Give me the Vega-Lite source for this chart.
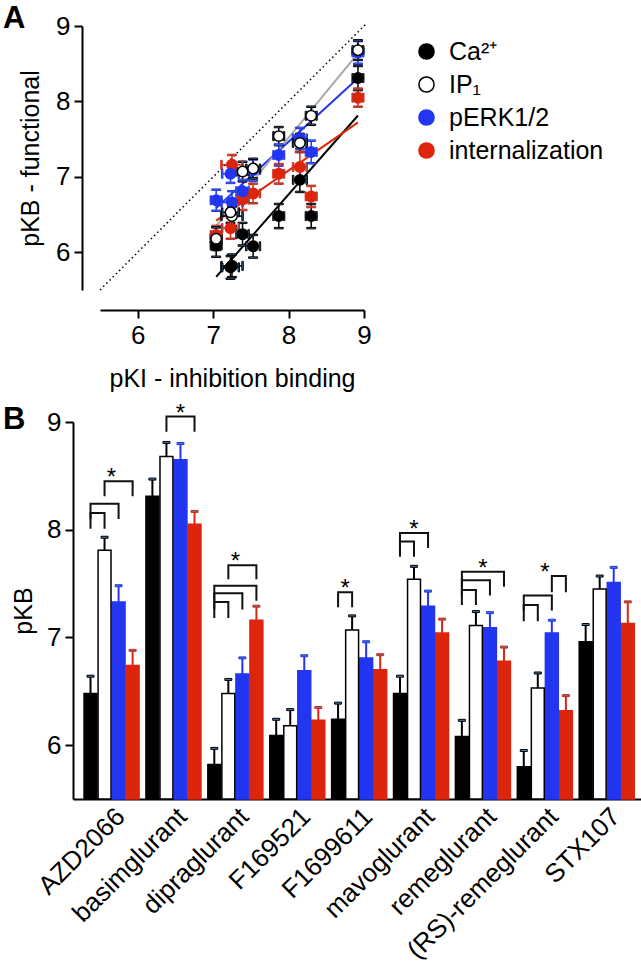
{
  "$schema": "https://vega.github.io/schema/vega-lite/v6.json",
  "padding": {"left": 3, "top": 3, "right": 0, "bottom": 0},
  "config": {
    "font": "Liberation Sans",
    "view": {"stroke": null},
    "axis": {"grid": false, "domainColor": "#000", "domainWidth": 2, "tickColor": "#000", "tickWidth": 2, "tickSize": 8, "labelColor": "#000", "labelFontSize": 26, "titleColor": "#000", "titleFontSize": 25, "titleFontWeight": "normal", "labelPadding": 4, "labelFlush": false, "labelOverlap": false},
    "legend": {"labelColor": "#000"}
  },
  "datasets": {
    "vals": [
      {"c": "AZD2066", "s": "Ca²⁺", "pKB": 6.48, "lo": 6.32, "hi": 6.64, "pKi": 8.30, "kiLo": 8.23, "kiHi": 8.37},
      {"c": "basimglurant", "s": "Ca²⁺", "pKB": 8.31, "lo": 8.15, "hi": 8.47, "pKi": 8.92, "kiLo": 8.85, "kiHi": 8.99},
      {"c": "dipraglurant", "s": "Ca²⁺", "pKB": 5.82, "lo": 5.67, "hi": 5.97, "pKi": 7.25, "kiLo": 7.11, "kiHi": 7.39},
      {"c": "F169521", "s": "Ca²⁺", "pKB": 6.09, "lo": 5.94, "hi": 6.24, "pKi": 7.04, "kiLo": 6.97, "kiHi": 7.11},
      {"c": "F1699611", "s": "Ca²⁺", "pKB": 6.24, "lo": 6.09, "hi": 6.39, "pKi": 7.39, "kiLo": 7.31, "kiHi": 7.47},
      {"c": "mavoglurant", "s": "Ca²⁺", "pKB": 6.48, "lo": 6.32, "hi": 6.64, "pKi": 7.87, "kiLo": 7.80, "kiHi": 7.94},
      {"c": "remeglurant", "s": "Ca²⁺", "pKB": 6.08, "lo": 5.93, "hi": 6.23, "pKi": 7.53, "kiLo": 7.44, "kiHi": 7.62},
      {"c": "(RS)-remeglurant", "s": "Ca²⁺", "pKB": 5.80, "lo": 5.65, "hi": 5.95, "pKi": 7.23, "kiLo": 7.12, "kiHi": 7.34},
      {"c": "STX107", "s": "Ca²⁺", "pKB": 6.96, "lo": 6.80, "hi": 7.12, "pKi": 8.15, "kiLo": 8.06, "kiHi": 8.24},
      {"c": "AZD2066", "s": "internalization", "pKB": 6.74, "lo": 6.60, "hi": 6.88, "pKi": 8.30, "kiLo": 8.23, "kiHi": 8.37},
      {"c": "basimglurant", "s": "internalization", "pKB": 8.05, "lo": 7.93, "hi": 8.17, "pKi": 8.92, "kiLo": 8.85, "kiHi": 8.99},
      {"c": "dipraglurant", "s": "internalization", "pKB": 7.16, "lo": 7.03, "hi": 7.29, "pKi": 7.25, "kiLo": 7.11, "kiHi": 7.39},
      {"c": "F169521", "s": "internalization", "pKB": 6.23, "lo": 6.11, "hi": 6.35, "pKi": 7.04, "kiLo": 6.97, "kiHi": 7.11},
      {"c": "F1699611", "s": "internalization", "pKB": 6.70, "lo": 6.56, "hi": 6.84, "pKi": 7.39, "kiLo": 7.31, "kiHi": 7.47},
      {"c": "mavoglurant", "s": "internalization", "pKB": 7.04, "lo": 6.91, "hi": 7.17, "pKi": 7.87, "kiLo": 7.80, "kiHi": 7.94},
      {"c": "remeglurant", "s": "internalization", "pKB": 6.78, "lo": 6.65, "hi": 6.91, "pKi": 7.53, "kiLo": 7.44, "kiHi": 7.62},
      {"c": "(RS)-remeglurant", "s": "internalization", "pKB": 6.32, "lo": 6.18, "hi": 6.46, "pKi": 7.23, "kiLo": 7.12, "kiHi": 7.34},
      {"c": "STX107", "s": "internalization", "pKB": 7.13, "lo": 6.93, "hi": 7.33, "pKi": 8.15, "kiLo": 8.06, "kiHi": 8.24},
      {"c": "AZD2066", "s": "pERK1/2", "pKB": 7.33, "lo": 7.18, "hi": 7.48, "pKi": 8.30, "kiLo": 8.23, "kiHi": 8.37},
      {"c": "basimglurant", "s": "pERK1/2", "pKB": 8.65, "lo": 8.50, "hi": 8.80, "pKi": 8.92, "kiLo": 8.85, "kiHi": 8.99},
      {"c": "dipraglurant", "s": "pERK1/2", "pKB": 6.66, "lo": 6.51, "hi": 6.81, "pKi": 7.25, "kiLo": 7.11, "kiHi": 7.39},
      {"c": "F169521", "s": "pERK1/2", "pKB": 6.69, "lo": 6.55, "hi": 6.83, "pKi": 7.04, "kiLo": 6.97, "kiHi": 7.11},
      {"c": "F1699611", "s": "pERK1/2", "pKB": 6.81, "lo": 6.66, "hi": 6.96, "pKi": 7.39, "kiLo": 7.31, "kiHi": 7.47},
      {"c": "mavoglurant", "s": "pERK1/2", "pKB": 7.29, "lo": 7.15, "hi": 7.43, "pKi": 7.87, "kiLo": 7.80, "kiHi": 7.94},
      {"c": "remeglurant", "s": "pERK1/2", "pKB": 7.09, "lo": 6.95, "hi": 7.23, "pKi": 7.53, "kiLo": 7.44, "kiHi": 7.62},
      {"c": "(RS)-remeglurant", "s": "pERK1/2", "pKB": 7.04, "lo": 6.92, "hi": 7.16, "pKi": 7.23, "kiLo": 7.12, "kiHi": 7.34},
      {"c": "STX107", "s": "pERK1/2", "pKB": 7.51, "lo": 7.37, "hi": 7.65, "pKi": 8.15, "kiLo": 8.06, "kiHi": 8.24},
      {"c": "AZD2066", "s": "IP₁", "pKB": 7.81, "lo": 7.69, "hi": 7.93, "pKi": 8.30, "kiLo": 8.23, "kiHi": 8.37},
      {"c": "basimglurant", "s": "IP₁", "pKB": 8.68, "lo": 8.55, "hi": 8.81, "pKi": 8.92, "kiLo": 8.85, "kiHi": 8.99},
      {"c": "dipraglurant", "s": "IP₁", "pKB": 6.48, "lo": 6.35, "hi": 6.61, "pKi": 7.25, "kiLo": 7.11, "kiHi": 7.39},
      {"c": "F169521", "s": "IP₁", "pKB": 6.18, "lo": 6.03, "hi": 6.33, "pKi": 7.04, "kiLo": 6.97, "kiHi": 7.11},
      {"c": "F1699611", "s": "IP₁", "pKB": 7.07, "lo": 6.94, "hi": 7.20, "pKi": 7.39, "kiLo": 7.31, "kiHi": 7.47},
      {"c": "mavoglurant", "s": "IP₁", "pKB": 7.54, "lo": 7.42, "hi": 7.66, "pKi": 7.87, "kiLo": 7.80, "kiHi": 7.94},
      {"c": "remeglurant", "s": "IP₁", "pKB": 7.11, "lo": 6.98, "hi": 7.24, "pKi": 7.53, "kiLo": 7.44, "kiHi": 7.62},
      {"c": "(RS)-remeglurant", "s": "IP₁", "pKB": 6.53, "lo": 6.39, "hi": 6.67, "pKi": 7.23, "kiLo": 7.12, "kiHi": 7.34},
      {"c": "STX107", "s": "IP₁", "pKB": 7.45, "lo": 7.33, "hi": 7.57, "pKi": 8.15, "kiLo": 8.06, "kiHi": 8.24}
    ],
    "ident": [{"pKi": 5.5, "pKB": 5.5}, {"pKi": 9.03, "pKB": 9.03}],
    "br": [
      {"k": 1, "c": "AZD2066", "s": "Ca²⁺", "y": 8.01, "o": 1}, {"k": 1, "c": "AZD2066", "s": "Ca²⁺", "y": 8.155, "o": 2}, {"k": 1, "c": "AZD2066", "s": "IP₁", "y": 8.155, "o": 3}, {"k": 1, "c": "AZD2066", "s": "IP₁", "y": 8.01, "o": 4},
      {"k": 2, "c": "AZD2066", "s": "Ca²⁺", "y": 8.10, "o": 1}, {"k": 2, "c": "AZD2066", "s": "Ca²⁺", "y": 8.24, "o": 2}, {"k": 2, "c": "AZD2066", "s": "pERK1/2", "y": 8.24, "o": 3}, {"k": 2, "c": "AZD2066", "s": "pERK1/2", "y": 8.10, "o": 4},
      {"k": 3, "c": "AZD2066", "s": "IP₁", "y": 8.31, "o": 1}, {"k": 3, "c": "AZD2066", "s": "IP₁", "y": 8.45, "o": 2}, {"k": 3, "c": "AZD2066", "s": "internalization", "y": 8.45, "o": 3}, {"k": 3, "c": "AZD2066", "s": "internalization", "y": 8.31, "o": 4},
      {"k": 4, "c": "basimglurant", "s": "IP₁", "y": 8.91, "o": 1}, {"k": 4, "c": "basimglurant", "s": "IP₁", "y": 9.05, "o": 2}, {"k": 4, "c": "basimglurant", "s": "internalization", "y": 9.05, "o": 3}, {"k": 4, "c": "basimglurant", "s": "internalization", "y": 8.91, "o": 4},
      {"k": 5, "c": "dipraglurant", "s": "Ca²⁺", "y": 7.18, "o": 1}, {"k": 5, "c": "dipraglurant", "s": "Ca²⁺", "y": 7.33, "o": 2}, {"k": 5, "c": "dipraglurant", "s": "IP₁", "y": 7.33, "o": 3}, {"k": 5, "c": "dipraglurant", "s": "IP₁", "y": 7.18, "o": 4},
      {"k": 6, "c": "dipraglurant", "s": "Ca²⁺", "y": 7.26, "o": 1}, {"k": 6, "c": "dipraglurant", "s": "Ca²⁺", "y": 7.41, "o": 2}, {"k": 6, "c": "dipraglurant", "s": "pERK1/2", "y": 7.41, "o": 3}, {"k": 6, "c": "dipraglurant", "s": "pERK1/2", "y": 7.26, "o": 4},
      {"k": 7, "c": "dipraglurant", "s": "Ca²⁺", "y": 7.34, "o": 1}, {"k": 7, "c": "dipraglurant", "s": "Ca²⁺", "y": 7.48, "o": 2}, {"k": 7, "c": "dipraglurant", "s": "internalization", "y": 7.48, "o": 3}, {"k": 7, "c": "dipraglurant", "s": "internalization", "y": 7.34, "o": 4},
      {"k": 8, "c": "dipraglurant", "s": "IP₁", "y": 7.54, "o": 1}, {"k": 8, "c": "dipraglurant", "s": "IP₁", "y": 7.67, "o": 2}, {"k": 8, "c": "dipraglurant", "s": "internalization", "y": 7.67, "o": 3}, {"k": 8, "c": "dipraglurant", "s": "internalization", "y": 7.54, "o": 4},
      {"k": 9, "c": "F1699611", "s": "Ca²⁺", "y": 7.28, "o": 1}, {"k": 9, "c": "F1699611", "s": "Ca²⁺", "y": 7.42, "o": 2}, {"k": 9, "c": "F1699611", "s": "IP₁", "y": 7.42, "o": 3}, {"k": 9, "c": "F1699611", "s": "IP₁", "y": 7.28, "o": 4},
      {"k": 10, "c": "mavoglurant", "s": "Ca²⁺", "y": 7.75, "o": 1}, {"k": 10, "c": "mavoglurant", "s": "Ca²⁺", "y": 7.89, "o": 2}, {"k": 10, "c": "mavoglurant", "s": "IP₁", "y": 7.89, "o": 3}, {"k": 10, "c": "mavoglurant", "s": "IP₁", "y": 7.75, "o": 4},
      {"k": 11, "c": "mavoglurant", "s": "Ca²⁺", "y": 7.83, "o": 1}, {"k": 11, "c": "mavoglurant", "s": "Ca²⁺", "y": 7.97, "o": 2}, {"k": 11, "c": "mavoglurant", "s": "pERK1/2", "y": 7.97, "o": 3}, {"k": 11, "c": "mavoglurant", "s": "pERK1/2", "y": 7.83, "o": 4},
      {"k": 12, "c": "remeglurant", "s": "Ca²⁺", "y": 7.30, "o": 1}, {"k": 12, "c": "remeglurant", "s": "Ca²⁺", "y": 7.44, "o": 2}, {"k": 12, "c": "remeglurant", "s": "IP₁", "y": 7.44, "o": 3}, {"k": 12, "c": "remeglurant", "s": "IP₁", "y": 7.30, "o": 4},
      {"k": 13, "c": "remeglurant", "s": "Ca²⁺", "y": 7.39, "o": 1}, {"k": 13, "c": "remeglurant", "s": "Ca²⁺", "y": 7.53, "o": 2}, {"k": 13, "c": "remeglurant", "s": "pERK1/2", "y": 7.53, "o": 3}, {"k": 13, "c": "remeglurant", "s": "pERK1/2", "y": 7.39, "o": 4},
      {"k": 14, "c": "remeglurant", "s": "Ca²⁺", "y": 7.47, "o": 1}, {"k": 14, "c": "remeglurant", "s": "Ca²⁺", "y": 7.61, "o": 2}, {"k": 14, "c": "remeglurant", "s": "internalization", "y": 7.61, "o": 3}, {"k": 14, "c": "remeglurant", "s": "internalization", "y": 7.47, "o": 4},
      {"k": 15, "c": "(RS)-remeglurant", "s": "Ca²⁺", "y": 7.15, "o": 1}, {"k": 15, "c": "(RS)-remeglurant", "s": "Ca²⁺", "y": 7.30, "o": 2}, {"k": 15, "c": "(RS)-remeglurant", "s": "IP₁", "y": 7.30, "o": 3}, {"k": 15, "c": "(RS)-remeglurant", "s": "IP₁", "y": 7.15, "o": 4},
      {"k": 16, "c": "(RS)-remeglurant", "s": "Ca²⁺", "y": 7.25, "o": 1}, {"k": 16, "c": "(RS)-remeglurant", "s": "Ca²⁺", "y": 7.39, "o": 2}, {"k": 16, "c": "(RS)-remeglurant", "s": "pERK1/2", "y": 7.39, "o": 3}, {"k": 16, "c": "(RS)-remeglurant", "s": "pERK1/2", "y": 7.25, "o": 4},
      {"k": 17, "c": "(RS)-remeglurant", "s": "pERK1/2", "y": 7.42, "o": 1}, {"k": 17, "c": "(RS)-remeglurant", "s": "pERK1/2", "y": 7.57, "o": 2}, {"k": 17, "c": "(RS)-remeglurant", "s": "internalization", "y": 7.57, "o": 3}, {"k": 17, "c": "(RS)-remeglurant", "s": "internalization", "y": 7.42, "o": 4}
    ],
    "st": [
      {"c": "AZD2066", "s": "IP₁", "y": 8.45, "p": "mid"},
      {"c": "basimglurant", "s": "pERK1/2", "y": 9.05, "p": "on"},
      {"c": "dipraglurant", "s": "IP₁", "y": 7.67, "p": "mid"},
      {"c": "F1699611", "s": "Ca²⁺", "y": 7.42, "p": "mid"},
      {"c": "mavoglurant", "s": "IP₁", "y": 7.97, "p": "on"},
      {"c": "remeglurant", "s": "IP₁", "y": 7.61, "p": "mid"},
      {"c": "(RS)-remeglurant", "s": "IP₁", "y": 7.57, "p": "mid"}
    ]
  },
  "columns": 1,
  "spacing": 10,
  "resolve": {"scale": {"fill": "independent", "stroke": "independent", "color": "independent"}},
  "concat": [
    {
      "width": 291,
      "height": 264,
      "title": {"text": "A", "anchor": "start", "frame": "group", "fontSize": 31, "fontWeight": "bold", "dx": -70, "dy": 22, "offset": 0, "color": "#000"},
      "layer": [
        {
          "data": {"name": "ident"},
          "mark": {"type": "line", "strokeDash": [1.5, 3], "strokeWidth": 1.5, "color": "#000"},
          "encoding": {
            "x": {"field": "pKi", "type": "quantitative", "scale": {"domain": [5.5, 9], "range": [27, 291], "nice": false, "zero": false}, "axis": {"values": [6, 7, 8, 9], "format": "d", "offset": 20, "title": "pKI - inhibition binding", "titlePadding": 18}},
            "y": {"field": "pKB", "type": "quantitative", "scale": {"domain": [5.5, 9], "nice": false, "zero": false}, "axis": {"values": [6, 7, 8, 9], "format": "d", "offset": -9, "title": "pKB - functional", "titlePadding": 12}}
          }
        },
        {
          "data": {"name": "vals"},
          "transform": [{"regression": "pKB", "on": "pKi", "groupby": ["s"]}, {"filter": "datum.s !== 'IP₁'"}],
          "mark": {"type": "line", "strokeWidth": 2, "opacity": 1},
          "encoding": {
            "x": {"field": "pKi", "type": "quantitative", "scale": {"domain": [5.5, 9], "range": [27, 291], "nice": false, "zero": false}},
            "y": {"field": "pKB", "type": "quantitative", "scale": {"domain": [5.5, 9], "nice": false, "zero": false}},
            "stroke": {"field": "s", "type": "nominal", "scale": {"domain": ["Ca²⁺", "IP₁", "pERK1/2", "internalization"], "range": ["#000000", "#000000", "#2236f2", "#dd250c"]}}
          }
        },
        {
          "data": {"name": "vals"},
          "transform": [{"filter": "datum.s === 'IP₁'"}, {"regression": "pKB", "on": "pKi"}],
          "mark": {"type": "line", "strokeWidth": 2, "color": "#a8a8a8"},
          "encoding": {
            "x": {"field": "pKi", "type": "quantitative", "scale": {"domain": [5.5, 9], "range": [27, 291], "nice": false, "zero": false}},
            "y": {"field": "pKB", "type": "quantitative", "scale": {"domain": [5.5, 9], "nice": false, "zero": false}}
          }
        },
        {
          "data": {"name": "vals"},
          "mark": {"type": "rule", "strokeWidth": 1.5, "opacity": 1},
          "encoding": {
            "x": {"field": "pKi", "type": "quantitative", "scale": {"domain": [5.5, 9], "range": [27, 291], "nice": false, "zero": false}},
            "y": {"field": "lo", "type": "quantitative", "scale": {"domain": [5.5, 9], "nice": false, "zero": false}},
            "y2": {"field": "hi"},
            "stroke": {"field": "s", "type": "nominal", "scale": {"domain": ["Ca²⁺", "IP₁", "pERK1/2", "internalization"], "range": ["#000000", "#000000", "#2236f2", "#dd250c"]}}
          }
        },
        {
          "data": {"name": "vals"},
          "mark": {"type": "tick", "orient": "horizontal", "size": 9, "thickness": 1.5, "opacity": 1},
          "encoding": {
            "x": {"field": "pKi", "type": "quantitative", "scale": {"domain": [5.5, 9], "range": [27, 291], "nice": false, "zero": false}},
            "y": {"field": "lo", "type": "quantitative", "scale": {"domain": [5.5, 9], "nice": false, "zero": false}},
            "stroke": {"field": "s", "type": "nominal", "scale": {"domain": ["Ca²⁺", "IP₁", "pERK1/2", "internalization"], "range": ["#000000", "#000000", "#2236f2", "#dd250c"]}}
          }
        },
        {
          "data": {"name": "vals"},
          "mark": {"type": "tick", "orient": "horizontal", "size": 9, "thickness": 1.5, "opacity": 1},
          "encoding": {
            "x": {"field": "pKi", "type": "quantitative", "scale": {"domain": [5.5, 9], "range": [27, 291], "nice": false, "zero": false}},
            "y": {"field": "hi", "type": "quantitative", "scale": {"domain": [5.5, 9], "nice": false, "zero": false}},
            "stroke": {"field": "s", "type": "nominal", "scale": {"domain": ["Ca²⁺", "IP₁", "pERK1/2", "internalization"], "range": ["#000000", "#000000", "#2236f2", "#dd250c"]}}
          }
        },
        {
          "data": {"name": "vals"},
          "mark": {"type": "rule", "strokeWidth": 1.5, "opacity": 1},
          "encoding": {
            "y": {"field": "pKB", "type": "quantitative", "scale": {"domain": [5.5, 9], "nice": false, "zero": false}},
            "x": {"field": "kiLo", "type": "quantitative", "scale": {"domain": [5.5, 9], "range": [27, 291], "nice": false, "zero": false}},
            "x2": {"field": "kiHi"},
            "stroke": {"field": "s", "type": "nominal", "scale": {"domain": ["Ca²⁺", "IP₁", "pERK1/2", "internalization"], "range": ["#000000", "#000000", "#2236f2", "#dd250c"]}}
          }
        },
        {
          "data": {"name": "vals"},
          "mark": {"type": "tick", "orient": "vertical", "size": 9, "thickness": 1.5, "opacity": 1},
          "encoding": {
            "y": {"field": "pKB", "type": "quantitative", "scale": {"domain": [5.5, 9], "nice": false, "zero": false}},
            "x": {"field": "kiLo", "type": "quantitative", "scale": {"domain": [5.5, 9], "range": [27, 291], "nice": false, "zero": false}},
            "stroke": {"field": "s", "type": "nominal", "scale": {"domain": ["Ca²⁺", "IP₁", "pERK1/2", "internalization"], "range": ["#000000", "#000000", "#2236f2", "#dd250c"]}}
          }
        },
        {
          "data": {"name": "vals"},
          "mark": {"type": "tick", "orient": "vertical", "size": 9, "thickness": 1.5, "opacity": 1},
          "encoding": {
            "y": {"field": "pKB", "type": "quantitative", "scale": {"domain": [5.5, 9], "nice": false, "zero": false}},
            "x": {"field": "kiHi", "type": "quantitative", "scale": {"domain": [5.5, 9], "range": [27, 291], "nice": false, "zero": false}},
            "stroke": {"field": "s", "type": "nominal", "scale": {"domain": ["Ca²⁺", "IP₁", "pERK1/2", "internalization"], "range": ["#000000", "#000000", "#2236f2", "#dd250c"]}}
          }
        },
        {
          "data": {"name": "vals"},
          "mark": {"type": "circle", "size": 110, "strokeWidth": 1.5, "opacity": 1},
          "encoding": {
            "x": {"field": "pKi", "type": "quantitative", "scale": {"domain": [5.5, 9], "range": [27, 291], "nice": false, "zero": false}, "axis": {"values": [6, 7, 8, 9], "format": "d", "offset": 20, "title": "pKI - inhibition binding", "titlePadding": 18}},
            "y": {"field": "pKB", "type": "quantitative", "scale": {"domain": [5.5, 9], "nice": false, "zero": false}, "axis": {"values": [6, 7, 8, 9], "format": "d", "offset": -9, "title": "pKB - functional", "titlePadding": 12}},
            "fill": {"field": "s", "type": "nominal", "scale": {"domain": ["Ca²⁺", "IP₁", "pERK1/2", "internalization"], "range": ["#000000", "#ffffff", "#2236f2", "#dd250c"]}, "legend": {"title": null, "orient": "none", "legendX": 341, "legendY": 13, "labelFontSize": 25, "symbolSize": 230, "symbolStrokeWidth": 1.5, "symbolOpacity": 1, "rowPadding": 7, "labelOffset": 10, "symbolType": "circle", "padding": 0}},
            "stroke": {"field": "s", "type": "nominal", "scale": {"domain": ["Ca²⁺", "IP₁", "pERK1/2", "internalization"], "range": ["#000000", "#000000", "#2236f2", "#dd250c"]}, "legend": {"title": null, "orient": "none", "legendX": 341, "legendY": 13, "labelFontSize": 25, "symbolSize": 230, "symbolStrokeWidth": 1.5, "symbolOpacity": 1, "rowPadding": 7, "labelOffset": 10, "symbolType": "circle", "padding": 0}}
          }
        }
      ]
    },
    {
      "width": 568,
      "height": 377,
      "title": {"text": "B", "anchor": "start", "frame": "group", "fontSize": 31, "fontWeight": "bold", "dx": -70, "dy": 34, "offset": 0, "color": "#000"},
      "layer": [
        {
          "data": {"name": "vals"},
          "mark": {"type": "bar", "strokeWidth": 1.5},
          "encoding": {
            "x": {"field": "c", "type": "nominal", "scale": {"domain": ["AZD2066", "basimglurant", "dipraglurant", "F169521", "F1699611", "mavoglurant", "remeglurant", "(RS)-remeglurant", "STX107"], "paddingInner": 0.111, "paddingOuter": 0.144, "align": 0.62}, "axis": {"title": null, "ticks": false, "labelAngle": -45, "labelFontSize": 26, "labelPadding": 4, "labelLimit": 0}},
            "xOffset": {"field": "s", "type": "nominal", "scale": {"domain": ["Ca²⁺", "IP₁", "pERK1/2", "internalization"], "paddingInner": 0.08}},
            "y": {"field": "pKB", "type": "quantitative", "scale": {"domain": [5.5, 9], "nice": false, "zero": false}, "axis": {"values": [6, 7, 8, 9], "format": "d", "title": "pKB", "titlePadding": 10}},
            "y2": {"datum": 5.5},
            "fill": {"field": "s", "type": "nominal", "scale": {"domain": ["Ca²⁺", "IP₁", "pERK1/2", "internalization"], "range": ["#000000", "#ffffff", "#2236f2", "#dd250c"]}, "legend": null},
            "stroke": {"field": "s", "type": "nominal", "scale": {"domain": ["Ca²⁺", "IP₁", "pERK1/2", "internalization"], "range": ["#000000", "#000000", "#2236f2", "#dd250c"]}, "legend": null}
          }
        },
        {
          "data": {"name": "vals"},
          "mark": {"type": "rule", "strokeWidth": 2},
          "encoding": {
            "x": {"field": "c", "type": "nominal", "scale": {"domain": ["AZD2066", "basimglurant", "dipraglurant", "F169521", "F1699611", "mavoglurant", "remeglurant", "(RS)-remeglurant", "STX107"]}},
            "xOffset": {"field": "s", "type": "nominal", "scale": {"domain": ["Ca²⁺", "IP₁", "pERK1/2", "internalization"]}},
            "y": {"field": "pKB", "type": "quantitative", "scale": {"domain": [5.5, 9], "nice": false, "zero": false}},
            "y2": {"field": "hi"},
            "stroke": {"field": "s", "type": "nominal", "scale": {"domain": ["Ca²⁺", "IP₁", "pERK1/2", "internalization"], "range": ["#000000", "#000000", "#2236f2", "#dd250c"]}, "legend": null}
          }
        },
        {
          "data": {"name": "vals"},
          "mark": {"type": "tick", "orient": "horizontal", "size": 7, "thickness": 2, "opacity": 1},
          "encoding": {
            "x": {"field": "c", "type": "nominal", "scale": {"domain": ["AZD2066", "basimglurant", "dipraglurant", "F169521", "F1699611", "mavoglurant", "remeglurant", "(RS)-remeglurant", "STX107"]}},
            "xOffset": {"field": "s", "type": "nominal", "scale": {"domain": ["Ca²⁺", "IP₁", "pERK1/2", "internalization"]}},
            "y": {"field": "hi", "type": "quantitative", "scale": {"domain": [5.5, 9], "nice": false, "zero": false}},
            "stroke": {"field": "s", "type": "nominal", "scale": {"domain": ["Ca²⁺", "IP₁", "pERK1/2", "internalization"], "range": ["#000000", "#000000", "#2236f2", "#dd250c"]}, "legend": null}
          }
        },
        {
          "data": {"name": "br"},
          "mark": {"type": "line", "color": "#111", "strokeWidth": 2, "strokeJoin": "miter"},
          "encoding": {
            "x": {"field": "c", "type": "nominal", "scale": {"domain": ["AZD2066", "basimglurant", "dipraglurant", "F169521", "F1699611", "mavoglurant", "remeglurant", "(RS)-remeglurant", "STX107"]}},
            "xOffset": {"field": "s", "type": "nominal", "scale": {"domain": ["Ca²⁺", "IP₁", "pERK1/2", "internalization"]}},
            "y": {"field": "y", "type": "quantitative", "scale": {"domain": [5.5, 9], "nice": false, "zero": false}},
            "detail": {"field": "k", "type": "nominal"},
            "order": {"field": "o", "type": "quantitative"}
          }
        },
        {
          "data": {"name": "st"},
          "transform": [{"filter": "datum.p === 'mid'"}],
          "mark": {"type": "text", "text": "*", "fontSize": 24, "dx": 7, "dy": 4, "baseline": "alphabetic", "color": "#000"},
          "encoding": {
            "x": {"field": "c", "type": "nominal", "scale": {"domain": ["AZD2066", "basimglurant", "dipraglurant", "F169521", "F1699611", "mavoglurant", "remeglurant", "(RS)-remeglurant", "STX107"]}},
            "xOffset": {"field": "s", "type": "nominal", "scale": {"domain": ["Ca²⁺", "IP₁", "pERK1/2", "internalization"]}},
            "y": {"field": "y", "type": "quantitative", "scale": {"domain": [5.5, 9], "nice": false, "zero": false}}
          }
        },
        {
          "data": {"name": "st"},
          "transform": [{"filter": "datum.p === 'on'"}],
          "mark": {"type": "text", "text": "*", "fontSize": 24, "dy": 4, "baseline": "alphabetic", "color": "#000"},
          "encoding": {
            "x": {"field": "c", "type": "nominal", "scale": {"domain": ["AZD2066", "basimglurant", "dipraglurant", "F169521", "F1699611", "mavoglurant", "remeglurant", "(RS)-remeglurant", "STX107"]}},
            "xOffset": {"field": "s", "type": "nominal", "scale": {"domain": ["Ca²⁺", "IP₁", "pERK1/2", "internalization"]}},
            "y": {"field": "y", "type": "quantitative", "scale": {"domain": [5.5, 9], "nice": false, "zero": false}}
          }
        }
      ]
    }
  ]
}
